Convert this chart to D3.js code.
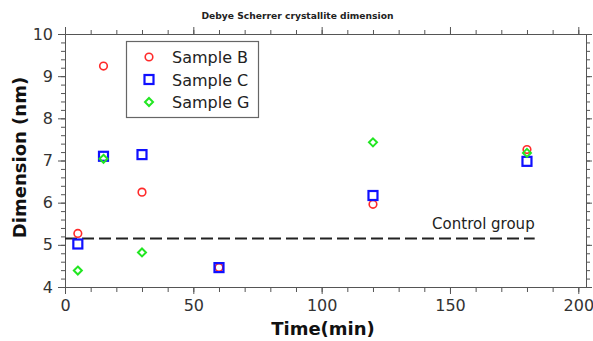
<!DOCTYPE html>
<html lang="en">
<head>
<meta charset="UTF-8">
<script src="https://d3js.org/d3.v7.min.js"></script>
<style>
  body { margin: 0; background: #fff; }
  svg text { font-family: "DejaVu Sans", Verdana, sans-serif; }
</style>
</head>
<body>
<div id="chart"></div>
<script>
const times = [5, 15, 30, 60, 120, 180];
const sampleB = [5.27, 9.24, 6.25, 4.46, 5.96, 7.26];
const sampleC = [5.02, 7.10, 7.14, 4.46, 6.17, 6.98];
const timesG = [5, 15, 30, 120, 180];
const sampleG = [4.39, 7.04, 4.82, 7.43, 7.18];
const controlLevel = 5.15;
const controlEnd = 183;
const xTicks = [0, 50, 100, 150, 200];
const yTicks = [4, 5, 6, 7, 8, 9, 10];

const width = 593, height = 341;
const margin = { top: 34, right: 7, bottom: 54, left: 65 };

const svg = d3.select("#chart").append("svg")
  .attr("width", width).attr("height", height);

const x = d3.scaleLinear().domain([0, 203]).range([margin.left, width - margin.right]);
const y = d3.scaleLinear().domain([4, 10]).range([height - margin.bottom, margin.top]);

const axisColor = "#555";

function styleAxis(g) {
  g.selectAll("path, line").attr("stroke", axisColor);
  g.selectAll("text").attr("fill", "#333").style("font-size", "16px")
    .style("font-family", "'DejaVu Sans', Verdana, sans-serif");
}

// minor ticks
const xMinor = d3.range(0, 201, 10);
const yMinor = d3.range(4, 10.001, 0.2);

svg.append("g").attr("transform", `translate(0,${y(4)})`)
  .call(d3.axisBottom(x).tickValues(xMinor).tickSize(5).tickFormat("").tickSizeOuter(0)).call(styleAxis);
svg.append("g").attr("transform", `translate(0,${y(4)})`)
  .call(d3.axisBottom(x).tickValues(xTicks).tickSize(7).tickPadding(6).tickFormat(d3.format("d")).tickSizeOuter(0)).call(styleAxis);
svg.append("g").attr("transform", `translate(0,${y(10)})`)
  .call(d3.axisTop(x).tickValues(xMinor).tickSize(4).tickFormat("").tickSizeOuter(0)).call(styleAxis);
svg.append("g").attr("transform", `translate(0,${y(10)})`)
  .call(d3.axisTop(x).tickValues(xTicks).tickSize(7).tickFormat("").tickSizeOuter(0)).call(styleAxis);

svg.append("g").attr("transform", `translate(${x(0)},0)`)
  .call(d3.axisLeft(y).tickValues(yMinor).tickSize(4).tickFormat("").tickSizeOuter(0)).call(styleAxis);
svg.append("g").attr("transform", `translate(${x(0)},0)`)
  .call(d3.axisLeft(y).tickValues(yTicks).tickSize(7).tickPadding(5).tickFormat(d3.format("d")).tickSizeOuter(0)).call(styleAxis);
svg.append("g").attr("transform", `translate(${x(203)},0)`)
  .call(d3.axisRight(y).tickValues(yMinor).tickSize(4).tickFormat("").tickSizeOuter(0)).call(styleAxis);
svg.append("g").attr("transform", `translate(${x(203)},0)`)
  .call(d3.axisRight(y).tickValues(yTicks).tickSize(6).tickFormat("").tickSizeOuter(0)).call(styleAxis);

// control group line
svg.append("line")
  .attr("x1", x(0)).attr("x2", x(controlEnd))
  .attr("y1", y(controlLevel)).attr("y2", y(controlLevel))
  .attr("stroke", "#222").attr("stroke-width", 2)
  .attr("stroke-dasharray", "12,5");

svg.append("text")
  .attr("x", x(controlEnd)).attr("y", y(controlLevel) - 10)
  .attr("text-anchor", "end")
  .style("font-size", "15px").attr("fill", "#222")
  .text("Control group");

// markers
const red = "#ff2a2a", blue = "#1010ff", green = "#22e622";

function circle(g, cx, cy) {
  g.append("circle").attr("cx", cx).attr("cy", cy).attr("r", 3.8)
    .attr("fill", "none").attr("stroke", red).attr("stroke-width", 1.6);
}
function square(g, cx, cy) {
  g.append("rect").attr("x", cx - 4.5).attr("y", cy - 4.5).attr("width", 9).attr("height", 9)
    .attr("fill", "none").attr("stroke", blue).attr("stroke-width", 2.2);
}
function diamond(g, cx, cy) {
  g.append("path").attr("d", `M${cx},${cy - 4}L${cx + 4},${cy}L${cx},${cy + 4}L${cx - 4},${cy}Z`)
    .attr("fill", "none").attr("stroke", green).attr("stroke-width", 2);
}

const pts = svg.append("g");
times.forEach((t, i) => circle(pts, x(t), y(sampleB[i])));
times.forEach((t, i) => square(pts, x(t), y(sampleC[i])));
timesG.forEach((t, i) => diamond(pts, x(t), y(sampleG[i])));

// legend
const legend = svg.append("g");
legend.append("rect").attr("x", 126.5).attr("y", 41.5).attr("width", 132).attr("height", 76)
  .attr("fill", "#fff").attr("stroke", "#666").attr("stroke-width", 1.2);
const entries = [["Sample B", circle], ["Sample C", square], ["Sample G", diamond]];
entries.forEach(([name, fn], i) => {
  const cy = 57 + i * 22.5;
  fn(legend, 149, cy);
  legend.append("text").attr("x", 172).attr("y", cy + 6)
    .style("font-size", "16px").attr("fill", "#222").text(name);
});

// titles
svg.append("text")
  .attr("x", 297.5).attr("y", 19)
  .attr("text-anchor", "middle")
  .attr("textLength", 192).attr("lengthAdjust", "spacingAndGlyphs")
  .style("font-size", "9.5px").style("font-weight", "bold").attr("fill", "#222")
  .text("Debye Scherrer crystallite dimension");

svg.append("text")
  .attr("x", 323).attr("y", 335)
  .attr("text-anchor", "middle")
  .style("font-size", "18px").style("font-weight", "bold").attr("fill", "#111")
  .text("Time(min)");

svg.append("text")
  .attr("transform", "translate(26,157.5) rotate(-90)")
  .attr("text-anchor", "middle")
  .style("font-size", "18px").style("font-weight", "bold").attr("fill", "#111")
  .text("Dimension (nm)");
</script>
</body>
</html>
